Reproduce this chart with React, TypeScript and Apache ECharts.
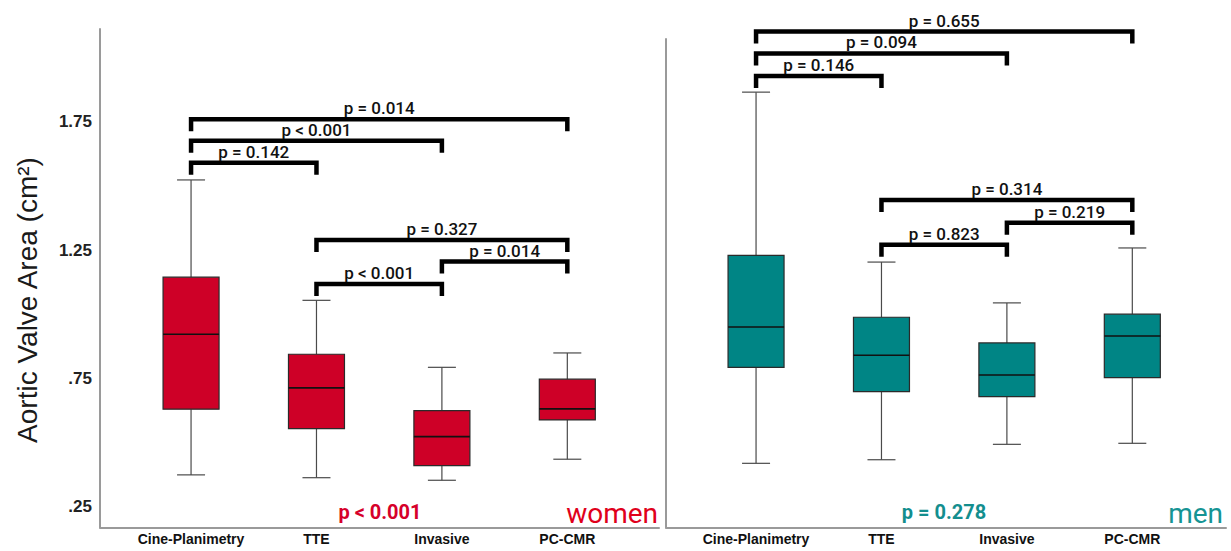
import React, { useEffect, useRef } from 'react';
import * as echarts from 'echarts';

const categories = ['Cine-Planimetry', 'TTE', 'Invasive', 'PC-CMR'];
const yTickValues = [0.25, 0.75, 1.25, 1.75];
const yTickLabels = ['.25', '.75', '1.25', '1.75'];

const womenMin = [0.375, 0.364, 0.354, 0.436];
const womenQ1 = [0.631, 0.555, 0.411, 0.589];
const womenMedian = [0.923, 0.714, 0.524, 0.632];
const womenQ3 = [1.145, 0.845, 0.625, 0.748];
const womenMax = [1.524, 1.055, 0.794, 0.85];

const menMin = [0.42, 0.434, 0.494, 0.498];
const menQ1 = [0.794, 0.699, 0.68, 0.754];
const menMedian = [0.951, 0.841, 0.764, 0.916];
const menQ3 = [1.23, 0.989, 0.889, 1.001];
const menMax = [1.866, 1.204, 1.045, 1.259];

const womenBracketFrom = [0, 0, 0, 1, 2, 1];
const womenBracketTo = [1, 2, 3, 2, 3, 3];
const womenBracketLevel = [1.591, 1.677, 1.76, 1.119, 1.206, 1.29];
const womenBracketLabel = ['p = 0.142', 'p < 0.001', 'p = 0.014', 'p < 0.001', 'p = 0.014', 'p = 0.327'];

const menBracketFrom = [0, 0, 0, 1, 2, 1];
const menBracketTo = [1, 2, 3, 2, 3, 3];
const menBracketLevel = [1.929, 2.017, 2.102, 1.271, 1.357, 1.446];
const menBracketLabel = ['p = 0.146', 'p = 0.094', 'p = 0.655', 'p = 0.823', 'p = 0.219', 'p = 0.314'];

const groupNames = ['women', 'men'];
const overallP = ['p < 0.001', 'p = 0.278'];
const yAxisTitle = 'Aortic Valve Area (cm²)';

const WOMEN_COLOR = '#CE0027';
const MEN_COLOR = '#008585';

function boxData(mins: number[], q1: number[], med: number[], q3: number[], maxs: number[]) {
  return categories.map((_, i) => [i, mins[i], q1[i], med[i], q3[i], maxs[i]]);
}

function bracketData(from: number[], to: number[], level: number[]) {
  return from.map((f, i) => [f, to[i], level[i]]);
}

function boxSeries(gridIdx: number, data: number[][], color: string) {
  return {
    type: 'custom',
    xAxisIndex: gridIdx,
    yAxisIndex: gridIdx,
    clip: false,
    encode: { x: 0, y: [1, 2, 3, 4, 5] },
    data,
    renderItem: (params: any, api: any) => {
      const x = api.value(0);
      const pLo = api.coord([x, api.value(1)]);
      const pQ1 = api.coord([x, api.value(2)]);
      const pMed = api.coord([x, api.value(3)]);
      const pQ3 = api.coord([x, api.value(4)]);
      const pHi = api.coord([x, api.value(5)]);
      const cx = pLo[0];
      const hw = 28;
      const cap = 14;
      const wStyle = { stroke: '#4a4a4a', lineWidth: 1.2 };
      return {
        type: 'group',
        children: [
          { type: 'line', shape: { x1: cx, y1: pHi[1], x2: cx, y2: pQ3[1] }, style: wStyle },
          { type: 'line', shape: { x1: cx, y1: pQ1[1], x2: cx, y2: pLo[1] }, style: wStyle },
          { type: 'line', shape: { x1: cx - cap, y1: pHi[1], x2: cx + cap, y2: pHi[1] }, style: wStyle },
          { type: 'line', shape: { x1: cx - cap, y1: pLo[1], x2: cx + cap, y2: pLo[1] }, style: wStyle },
          {
            type: 'rect',
            shape: { x: cx - hw, y: pQ3[1], width: hw * 2, height: pQ1[1] - pQ3[1] },
            style: { fill: color, stroke: '#2a2a2a', lineWidth: 1.2 },
          },
          { type: 'line', shape: { x1: cx - hw, y1: pMed[1], x2: cx + hw, y2: pMed[1] }, style: { stroke: '#111', lineWidth: 1.6 } },
        ],
      };
    },
  };
}

function bracketSeries(gridIdx: number, data: number[][], labels: string[]) {
  return {
    type: 'custom',
    xAxisIndex: gridIdx,
    yAxisIndex: gridIdx,
    clip: false,
    encode: { x: [0, 1], y: 2 },
    data,
    renderItem: (params: any, api: any) => {
      const a = api.coord([api.value(0), api.value(2)]);
      const b = api.coord([api.value(1), api.value(2)]);
      const drop = 12;
      return {
        type: 'group',
        children: [
          {
            type: 'polyline',
            shape: { points: [[a[0], a[1] + drop], [a[0], a[1]], [b[0], b[1]], [b[0], b[1] + drop]] },
            style: { stroke: '#000', lineWidth: 4.5, fill: 'none', lineJoin: 'miter' },
          },
          {
            type: 'text',
            x: (a[0] + b[0]) / 2,
            y: a[1] - 11,
            style: {
              text: labels[params.dataIndex],
              fontFamily: 'Roboto',
              fontWeight: 500,
              fontSize: 17,
              fill: '#111',
              align: 'center',
              verticalAlign: 'middle',
            },
          },
        ],
      };
    },
  };
}

export default function App() {
  const ref = useRef<HTMLDivElement>(null);
  useEffect(() => {
    document.body.style.margin = '0';
    const chart = echarts.init(ref.current!, null, { renderer: 'svg' });
    const axisLine = { show: true, onZero: false, lineStyle: { color: '#9a9a9a', width: 2 } };
    const xAxisCommon = {
      type: 'value',
      axisLine,
      axisTick: { show: false },
      splitLine: { show: false },
      axisLabel: {
        customValues: [0, 1, 2, 3],
        formatter: (v: number) => categories[Math.round(v)] ?? '',
        fontFamily: 'Liberation Sans, Arial',
        fontWeight: 'bold',
        fontSize: 14,
        color: '#111',
        margin: 4,
      },
    };
    const option: any = {
      animation: false,
      backgroundColor: '#fff',
      grid: [
        { left: 100, top: 29, width: 559, bottom: 23.5 },
        { left: 666, top: 39, width: 560, bottom: 23.5 },
      ],
      xAxis: [
        { ...xAxisCommon, gridIndex: 0, min: -0.726, max: 3.731 },
        { ...xAxisCommon, gridIndex: 1, min: -0.718, max: 3.747 },
      ],
      yAxis: [
        {
          type: 'value',
          gridIndex: 0,
          min: 0.17,
          max: 2.112,
          axisLine,
          axisTick: { show: false },
          splitLine: { show: false },
          axisLabel: {
            customValues: yTickValues,
            formatter: (v: number) => {
              const i = yTickValues.findIndex((t) => Math.abs(t - v) < 1e-6);
              return i >= 0 ? yTickLabels[i] : '';
            },
            fontFamily: 'Liberation Sans, Arial',
            fontWeight: 'bold',
            fontSize: 17,
            color: '#222',
            margin: 8,
          },
        },
        {
          type: 'value',
          gridIndex: 1,
          min: 0.17,
          max: 2.073,
          axisLine,
          axisTick: { show: false },
          splitLine: { show: false },
          axisLabel: { show: false },
        },
      ],
      series: [
        boxSeries(0, boxData(womenMin, womenQ1, womenMedian, womenQ3, womenMax), WOMEN_COLOR),
        boxSeries(1, boxData(menMin, menQ1, menMedian, menQ3, menMax), MEN_COLOR),
        bracketSeries(0, bracketData(womenBracketFrom, womenBracketTo, womenBracketLevel), womenBracketLabel),
        bracketSeries(1, bracketData(menBracketFrom, menBracketTo, menBracketLevel), menBracketLabel),
      ],
      graphic: [
        {
          type: 'text',
          x: 27,
          y: 300,
          rotation: Math.PI / 2,
          style: {
            text: yAxisTitle,
            fontFamily: 'Liberation Sans, Arial',
            fontSize: 28,
            fill: '#1a1a1a',
            align: 'center',
            verticalAlign: 'middle',
          },
        },
        {
          type: 'text',
          x: 380,
          y: 512,
          style: {
            text: overallP[0],
            fontFamily: 'Roboto',
            fontWeight: 'bold',
            fontSize: 20,
            fill: '#D6002A',
            align: 'center',
            verticalAlign: 'middle',
          },
        },
        {
          type: 'text',
          x: 658,
          y: 513,
          style: {
            text: groupNames[0],
            fontFamily: 'Roboto',
            fontSize: 28,
            fill: '#E0001B',
            align: 'right',
            verticalAlign: 'middle',
          },
        },
        {
          type: 'text',
          x: 944,
          y: 512,
          style: {
            text: overallP[1],
            fontFamily: 'Roboto',
            fontWeight: 'bold',
            fontSize: 20,
            fill: '#138E8E',
            align: 'center',
            verticalAlign: 'middle',
          },
        },
        {
          type: 'text',
          x: 1223,
          y: 513,
          style: {
            text: groupNames[1],
            fontFamily: 'Roboto',
            fontSize: 28,
            fill: '#169494',
            align: 'right',
            verticalAlign: 'middle',
          },
        },
      ],
    };
    chart.setOption(option);
    return () => chart.dispose();
  }, []);
  return <div ref={ref} style={{ width: 1231, height: 551 }} />;
}
